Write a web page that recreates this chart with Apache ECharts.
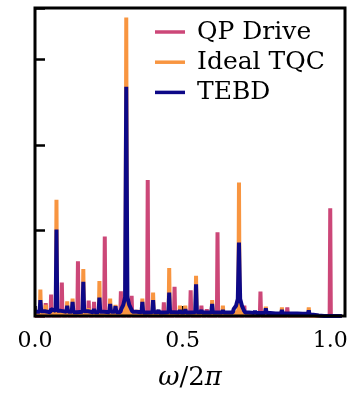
<!DOCTYPE html>
<html><head><meta charset="utf-8">
<script src="https://cdn.jsdelivr.net/npm/echarts@6/dist/echarts.min.js"></script>
<style>html,body{margin:0;padding:0;background:#fff}#c{width:357px;height:396px}</style>
</head><body><div id="c"></div>
<script>
// Spectrum sampled on the grid omega/2pi = k/55, k = 0..57
const gridDen = 55;
const seriesNames = ['QP Drive', 'Ideal TQC', 'TEBD'];
const xTicks = [0.0, 0.5, 1.0];
const yTicks = [0, 1, 2, 3];

// peak heights at k = 0..57
const qpPeak = [0.02,0.04,0.15,0.25,0.04,0.39,0.08,0.03,0.64,0.03,
                0.18,0.165,0.02,0.93,0.03,0.05,0.29,0.06,0.235,0.05,
                0.03,1.59,0.03,0.03,0.16,0.03,0.34,0.02,0.02,0.30,
                0.03,0.12,0.08,0.02,0.98,0.02,0.02,0.03,0.07,0.12,
                0.02,0.02,0.285,0.02,0.04,0.04,0.02,0.10,0.01,0.02,
                0.035,0.01,0.02,0,0,1.26,0,0];
const tqcPeak = [0.03,0.31,0.13,0.04,1.36,0.03,0.17,0.205,0.03,0.55,
                 0.09,0.04,0.41,0.02,0.205,0.13,0.03,3.49,0.03,0.07,
                 0.205,0.02,0.275,0.07,0.03,0.56,0.02,0.12,0.12,0.02,
                 0.47,0.03,0.03,0.185,0.02,0.12,0.04,0.05,1.56,0.03,
                 0.04,0.03,0.02,0.11,0.02,0.01,0.10,0.01,0.02,0.01,
                 0.01,0.10,0.01,0,0,0,0,0];
const tebdPeak = [0.07,0.185,0.07,0.08,1.01,0.07,0.12,0.165,0.06,0.40,
                  0.07,0.08,0.215,0.06,0.14,0.115,0.06,2.68,0.07,0.07,
                  0.165,0.05,0.185,0.07,0.06,0.275,0.05,0.07,0.08,0.05,
                  0.37,0.07,0.06,0.14,0.05,0.07,0.06,0.08,0.86,0.06,
                  0.05,0.06,0.04,0.09,0.03,0.03,0.07,0.03,0.04,0.02,
                  0.02,0.065,0.01,0,0,0,0,0];

// floor values in the gap between k and k+1
const qpValley = [0.005,0.005,0.005,0.005,0.005,0.005,0.005,0.005,0.005,0.005,
                  0.005,0.005,0.005,0.005,0.005,0.005,0.005,0.005,0.005,0.005,
                  0.005,0.005,0.005,0.005,0.005,0.005,0.005,0.005,0.005,0.005,
                  0.005,0.005,0.005,0.005,0.005,0.005,0.005,0.005,0.005,0.005,
                  0.005,0.005,0.005,0.005,0.005,0.005,0.005,0.005,0.005,0.005,
                  0.005,0.005,0,0,0,0,0];
const tqcValley = [0.02,0.02,0.015,0.025,0.025,0.015,0.02,0.015,0.02,0.02,
                   0.015,0.015,0.02,0.015,0.02,0.015,0.025,0.025,0.015,0.015,
                   0.015,0.015,0.02,0.015,0.015,0.02,0.015,0.015,0.015,0.015,
                   0.02,0.015,0.015,0.015,0.015,0.015,0.015,0.025,0.025,0.015,
                   0.015,0.015,0.015,0.015,0.015,0.01,0.01,0.01,0.01,0.01,
                   0.01,0.005,0,0,0,0,0];
const tebdValley = [0.05,0.055,0.045,0.06,0.06,0.05,0.05,0.045,0.05,0.055,
                    0.045,0.045,0.05,0.045,0.05,0.045,0.08,0.08,0.05,0.045,
                    0.04,0.045,0.045,0.04,0.045,0.045,0.04,0.04,0.04,0.045,
                    0.045,0.04,0.04,0.04,0.04,0.04,0.04,0.07,0.07,0.04,
                    0.035,0.035,0.035,0.035,0.03,0.03,0.03,0.03,0.03,0.025,
                    0.025,0.015,0.005,0,0,0,0];

// broadened bases (offset in omega/2pi, height) around selected peaks
const tebdBroad = {
  17: [[-0.017,0.08],[-0.010,0.13],[-0.004,0.22],[0.004,0.22],[0.010,0.13],[0.017,0.08]],
  38: [[-0.016,0.07],[-0.010,0.12],[-0.004,0.20],[0.004,0.20],[0.010,0.12],[0.016,0.07]]
};
const tqcBroad = {
  17: [[-0.006,0.02],[-0.0025,0.10],[0.0025,0.10],[0.006,0.02]],
  38: [[-0.005,0.02],[-0.002,0.08],[0.002,0.08],[0.005,0.02]]
};

const colors = ['#cc4778', '#f89540', '#0d0887'];

function buildSpectrum(peaks, valleys, broad, halfW) {
  const pts = [];
  const broadKeys = Object.keys(broad).map(Number);
  const inBroad = (x) => broadKeys.some(b => Math.abs(x - b / gridDen) <= 0.0175);
  for (let k = 0; k < peaks.length; k++) {
    const f = k / gridDen;
    const vl = valleys[Math.max(0, k - 1)] || 0;
    const vr = valleys[k] || 0;
    if (broad[k]) {
      broad[k].forEach(p => pts.push([f + p[0], p[1]]));
      pts.push([f, peaks[k]]);
    } else {
      if (!inBroad(f - halfW)) pts.push([f - halfW, vl]);
      pts.push([f, peaks[k]]);
      if (!inBroad(f + halfW)) pts.push([f + halfW, vr]);
    }
  }
  pts.sort((a, b) => a[0] - b[0]);
  return pts;
}

const dataSets = [
  buildSpectrum(qpPeak, qpValley, {}, 0.002),
  buildSpectrum(tqcPeak, tqcValley, tqcBroad, 0.002),
  buildSpectrum(tebdPeak, tebdValley, tebdBroad, 0.0028)
];

const chart = echarts.init(document.getElementById('c'), null, {renderer: 'canvas'});
const serif = 'DejaVu Serif';
chart.setOption({
  animation: false,
  backgroundColor: '#fff',
  grid: {left: 35, right: 12, top: 8, bottom: 78, show: true,
         borderColor: '#000', borderWidth: 3, backgroundColor: 'transparent', z: 10},
  legend: {
    data: seriesNames, orient: 'vertical', left: 155, top: 19.5, padding: 0,
    icon: 'rect', itemWidth: 30, itemHeight: 3.5, itemGap: 5.2,
    textStyle: {fontFamily: serif, fontSize: 25, color: '#000', lineHeight: 24, padding: [0,0,0,7]}
  },
  xAxis: {
    type: 'value', min: 0, max: 1.05, interval: 0.5,
    name: '{i|ω}/2{i|π}', nameLocation: 'middle', nameGap: 49,
    nameTextStyle: {fontFamily: serif, fontSize: 26, color: '#000',
      rich: {i: {fontFamily: serif, fontSize: 26, fontStyle: 'italic', color: '#000'}}},
    axisLine: {show: false},
    axisTick: {show: true, inside: true, length: 10, lineStyle: {color: '#000', width: 2.5}},
    axisLabel: {fontFamily: serif, fontSize: 22, color: '#000', margin: 14, showMaxLabel: false,
      formatter: v => xTicks.some(t => Math.abs(t - v) < 1e-9) ? v.toFixed(1) : ''},
    splitLine: {show: false}
  },
  yAxis: {
    type: 'value', min: 0, max: 3.6, interval: 1,
    axisLine: {show: false},
    axisTick: {show: true, inside: true, length: 10, lineStyle: {color: '#000', width: 2.5}},
    axisLabel: {show: false},
    splitLine: {show: false}
  },
  series: seriesNames.map((n, i) => ({
    name: n, type: 'line', data: dataSets[i], showSymbol: false, symbol: 'none',
    color: colors[i], lineStyle: {width: 4, color: colors[i], join: 'bevel'},
    clip: true, z: 2 + i * 0.01
  }))
});
</script></body></html>
